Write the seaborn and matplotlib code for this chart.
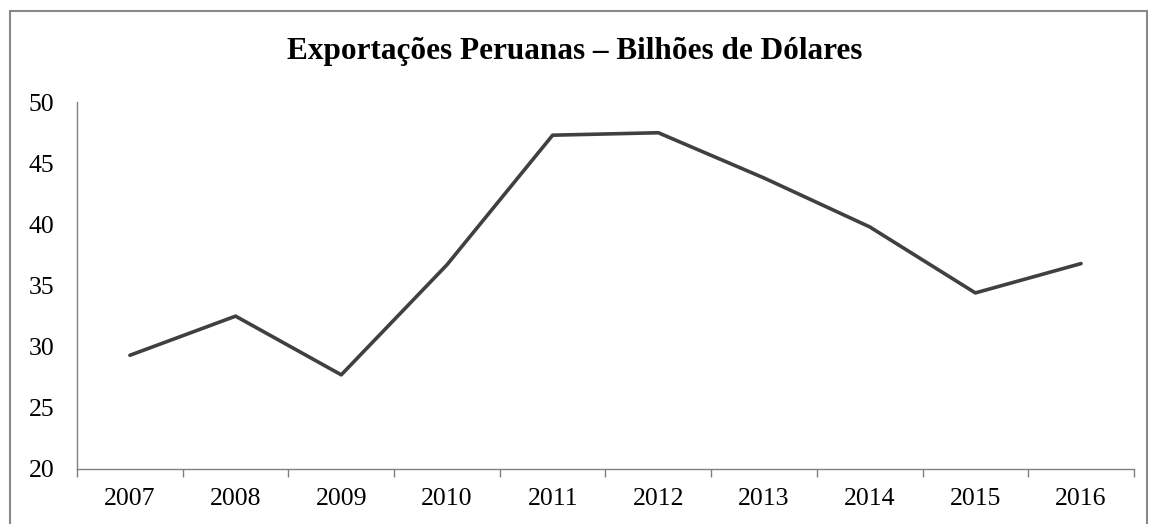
import numpy as np
import pandas as pd
import seaborn as sns
import matplotlib.pyplot as plt
from matplotlib.patches import Rectangle

years = [2007, 2008, 2009, 2010, 2011, 2012, 2013, 2014, 2015, 2016]
exports = [29.3, 32.5, 27.7, 36.7, 47.3, 47.5, 43.8, 39.8, 34.4, 36.8]
title = "Exportações Peruanas – Bilhões de Dólares"

df = pd.DataFrame({'Ano': years, 'Exportacoes': exports})

sns.set_style('white')
plt.rcParams['font.family'] = ['Liberation Serif', 'DejaVu Serif']

fig = plt.figure(figsize=(11.5, 5.24), dpi=100)
ax = fig.add_axes([0.067, 0.105, 0.919, 0.700])

sns.lineplot(data=df, x='Ano', y='Exportacoes', color='#404040', linewidth=2.6, ax=ax)

ax.set_xlim(years[0] - 0.5, years[-1] + 0.5)
ax.set_ylim(20, 50)
ax.set_yticks(np.arange(20, 51, 5))
ax.set_xticks(years)
ax.set_xticklabels([str(y) for y in years])
ax.set_xticks(np.arange(years[0] - 0.5, years[-1] + 1, 1), minor=True)
ax.set_xlabel('')
ax.set_ylabel('')

for s in ['top', 'right']:
    ax.spines[s].set_visible(False)
for s in ['left', 'bottom']:
    ax.spines[s].set_color('#808080')
    ax.spines[s].set_linewidth(1.0)

ax.tick_params(axis='y', which='major', direction='out', length=6.5, width=1,
               color='#808080', labelsize=18.5, labelcolor='black', pad=10)
ax.tick_params(axis='x', which='major', length=0, labelsize=18.5,
               labelcolor='black', pad=14)
ax.tick_params(axis='x', which='minor', direction='out', length=6, width=1,
               color='#808080', bottom=True)

fig.text(0.5, 0.902, title, ha='center', va='center', fontsize=22.5,
         fontweight='bold', color='black')

fig.patches.append(Rectangle((10 / 1150, -0.02), 1137 / 1150, 1 - 11 / 524 + 0.02,
                             transform=fig.transFigure, fill=False,
                             edgecolor='#888888', linewidth=1.5))

plt.savefig('out.png', dpi=100)
